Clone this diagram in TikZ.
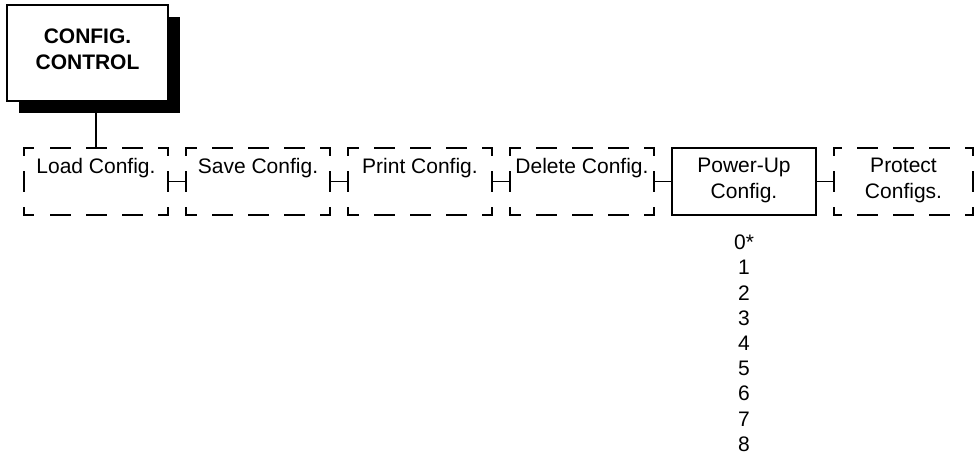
\documentclass[tikz,border=0pt]{standalone}
\usepackage{fontspec}
\setmainfont{Liberation Sans}
\usetikzlibrary{shadows}
\newcommand\dashedframe[3]{% node, horizontal phase, vertical phase
  \draw[dsh, dash phase=#2] (#1.north west) -- (#1.north east);
  \draw[dsh, dash phase=#2] (#1.south west) -- (#1.south east);
  \draw[dsh, dash phase=#3] (#1.north west) -- (#1.south west);
  \draw[dsh, dash phase=#3] (#1.north east) -- (#1.south east);
}
\begin{document}
\begin{tikzpicture}[x=1bp,y=-1bp,
  lw/.style={line width=1.8bp},
  dsh/.style={lw, line cap=rect, dash pattern=on 19.2bp off 16.8bp},
  box/.style={rectangle, inner sep=0pt, outer sep=0pt, minimum height=67bp, minimum width=144bp},
  solidbox/.style={box, draw, lw},
  lbl/.style={anchor=north, inner sep=0pt, outer sep=0pt, align=center, font=\fontsize{21bp}{26bp}\selectfont},
  link/.style={lw},
]
\useasboundingbox (0,0) rectangle (975,465);

% top box with drop shadow
\node[rectangle, draw, lw, fill=white, inner sep=0pt, outer sep=0pt,
      minimum width=161bp, minimum height=96bp,
      drop shadow={shadow xshift=12bp, shadow yshift=-12bp, fill=black, opacity=1}]
      (top) at (87.5,53) {};
\path (top.north) ++(0,24) node[lbl, font=\fontsize{21bp}{25.7bp}\selectfont\bfseries] (toptext) {CONFIG.\\CONTROL};

% row of boxes
\node[box] (load)    at (96,181.5)  {};
\node[box] (save)    at (258,181.5) {};
\node[box] (print)   at (420,181.5) {};
\node[box] (delete)  at (582,181.5) {};
\node[solidbox] (power) at (744,181.5) {};
\node[box, minimum width=139bp] (protect) at (903.5,181.5) {};

\dashedframe{load}{9.6bp}{12.1bp}
\dashedframe{save}{9.6bp}{12.1bp}
\dashedframe{print}{9.6bp}{12.1bp}
\dashedframe{delete}{9.6bp}{12.1bp}
\dashedframe{protect}{12.1bp}{12.1bp}

% labels
\path (load.north)    ++(0,10.5) node[lbl] (loadtext)    {Load Config.};
\path (save.north)    ++(0,10.5) node[lbl] (savetext)    {Save Config.};
\path (print.north)   ++(0,10.5) node[lbl] (printtext)   {Print Config.};
\path (delete.north)  ++(0,10.5) node[lbl] (deletetext)  {Delete Config.};
\path (power.north)   ++(0,10.5) node[lbl] (powertext)   {Power-Up\\Config.};
\path (protect.north) ++(0,10.5) node[lbl] (protecttext) {Protect\\Configs.};

% values
\path (power.south) ++(0,20) node[lbl, font=\fontsize{21bp}{25.2bp}\selectfont] (values)
  {0*\\1\\2\\3\\4\\5\\6\\7\\8};

% connectors
\draw[link] (load.north) -- (load.north |- top.south);
\draw[link] (load.east) -- (save.west);
\draw[link] (save.east) -- (print.west);
\draw[link] (print.east) -- (delete.west);
\draw[link] (delete.east) -- (power.west);
\draw[link] (power.east) -- (protect.west);
\end{tikzpicture}
\end{document}
